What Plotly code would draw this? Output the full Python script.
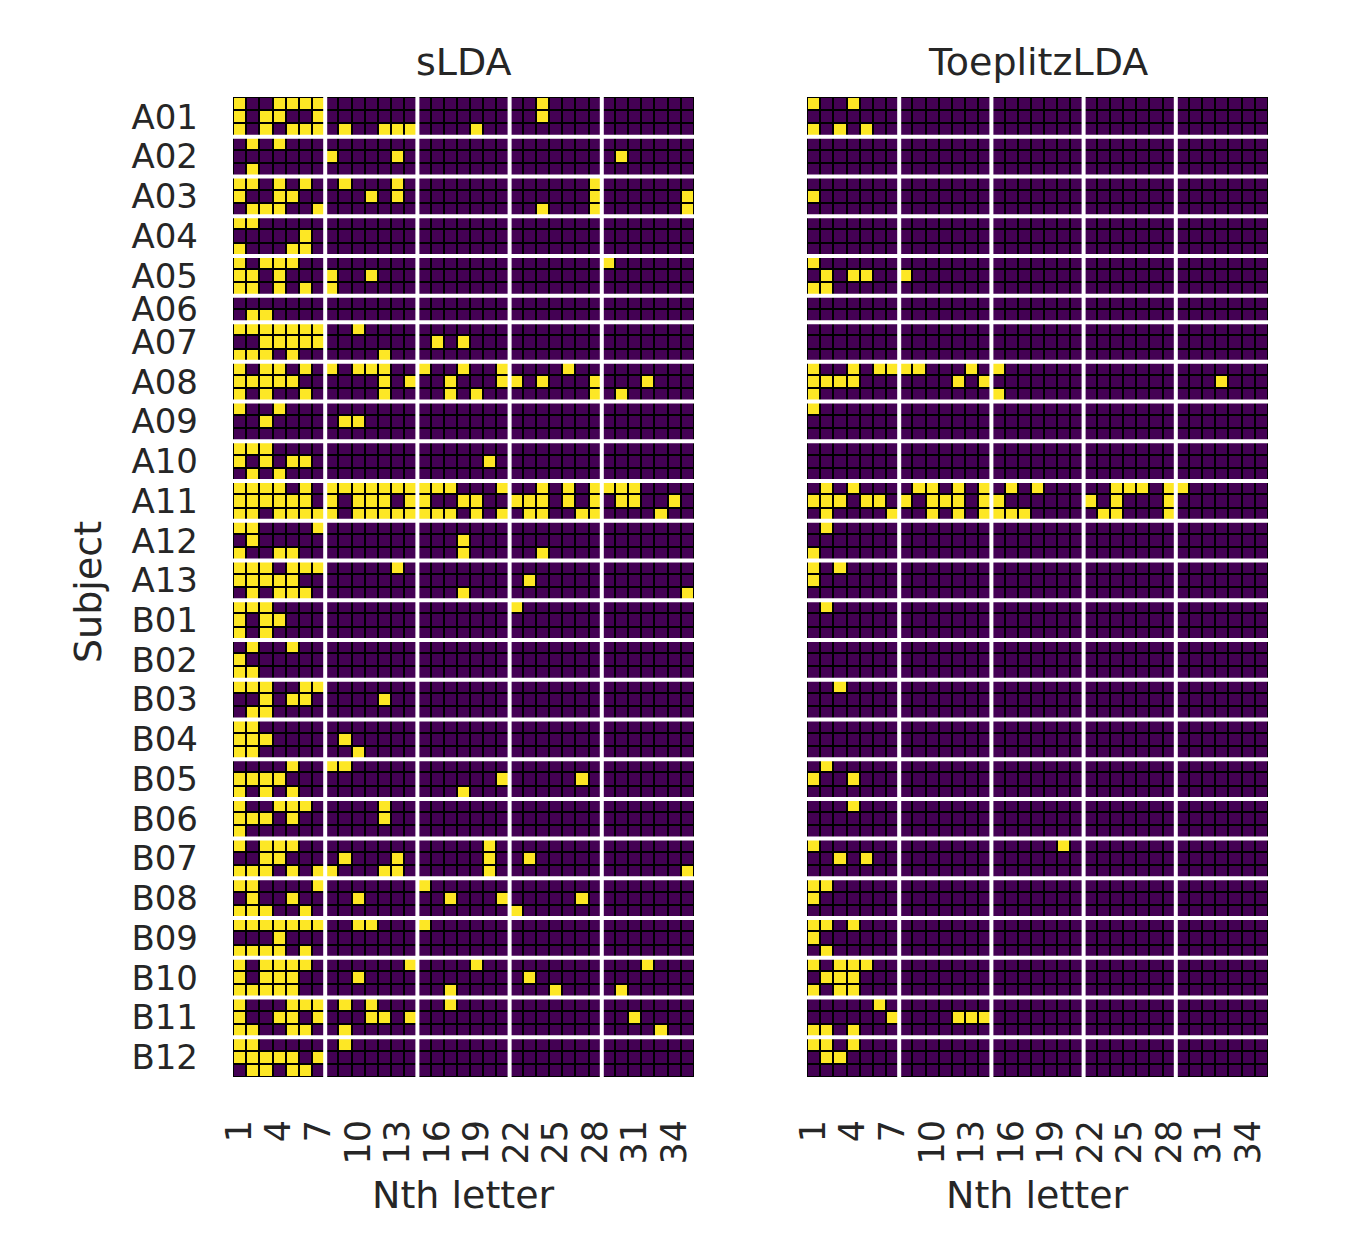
import plotly.graph_objects as go

# subjects and how many rows (runs) each one has
subjects = ["A01", "A02", "A03", "A04", "A05", "A06", "A07", "A08", "A09", "A10",
            "A11", "A12", "A13", "B01", "B02", "B03", "B04", "B05", "B06", "B07",
            "B08", "B09", "B10", "B11", "B12"]
rows_per_subject = [3, 3, 3, 3, 3, 2, 3, 3, 3, 3, 3, 3, 3,
                    3, 3, 3, 3, 3, 3, 3, 3, 3, 3, 3, 3]
n_letters = 35
letter_ticks = list(range(1, 36, 3))
block_edges = [7.5, 14.5, 21.5, 28.5]

# letters (1-based) that were wrong, one list per row
slda_wrong = {
    "A01": [[1, 4, 5, 6, 7, 24], [1, 3, 4, 7, 24], [1, 3, 5, 6, 7, 9, 12, 13, 14, 19]],
    "A02": [[2, 4], [8, 13, 30], [2]],
    "A03": [[1, 2, 4, 6, 9, 13, 28], [1, 4, 5, 11, 13, 28, 35], [2, 3, 4, 7, 24, 28, 35]],
    "A04": [[1, 2], [6], [1, 5, 6]],
    "A05": [[1, 3, 4, 5, 29], [1, 2, 4, 8, 11], [1, 2, 4, 6, 8]],
    "A06": [[], [2, 3]],
    "A07": [[1, 2, 3, 4, 5, 6, 7, 10], [3, 4, 5, 6, 7, 16, 18], [1, 2, 3, 5, 12]],
    "A08": [[1, 3, 4, 6, 8, 10, 11, 12, 15, 18, 21, 26],
            [1, 2, 3, 4, 5, 12, 14, 17, 21, 22, 24, 28, 32],
            [1, 3, 6, 12, 17, 19, 28, 30]],
    "A09": [[1, 4], [3, 9, 10], []],
    "A10": [[1, 2, 3], [1, 3, 5, 6, 20], [2, 4]],
    "A11": [[1, 2, 3, 4, 6, 8, 9, 10, 11, 12, 13, 14, 15, 16, 17, 21, 24, 26, 28, 29, 30, 31],
            [1, 2, 3, 4, 5, 6, 8, 10, 11, 12, 14, 15, 18, 19, 22, 23, 24, 26, 28, 30, 31, 34],
            [1, 2, 4, 5, 6, 7, 8, 10, 11, 12, 13, 14, 15, 16, 17, 19, 21, 23, 24, 27, 28, 33]],
    "A12": [[1, 2, 7], [2, 18], [1, 4, 5, 18, 24]],
    "A13": [[1, 2, 3, 5, 6, 7, 13], [1, 2, 3, 4, 5, 23], [2, 4, 5, 6, 18, 35]],
    "B01": [[1, 2, 3, 22], [1, 3, 4], [1, 3]],
    "B02": [[2, 5], [1], [1, 2]],
    "B03": [[1, 2, 3, 6, 7], [3, 5, 6, 12], [2, 3]],
    "B04": [[1, 2], [1, 2, 3, 9], [1, 2, 10]],
    "B05": [[5, 8, 9], [1, 2, 3, 4, 21, 27], [1, 3, 5, 18]],
    "B06": [[1, 4, 5, 6, 12], [1, 2, 3, 5, 12], [1]],
    "B07": [[1, 3, 4, 5, 20], [3, 4, 9, 13, 20, 23], [1, 2, 3, 5, 7, 8, 12, 13, 20, 35]],
    "B08": [[1, 2, 7, 15], [2, 5, 10, 17, 21, 27], [1, 2, 3, 6, 22]],
    "B09": [[1, 2, 3, 4, 5, 6, 7, 10, 11, 15], [4], [1, 2, 3, 4, 6]],
    "B10": [[1, 3, 4, 5, 6, 14, 19, 32], [1, 3, 4, 5, 10, 23], [1, 2, 3, 4, 5, 17, 25, 30]],
    "B11": [[1, 5, 6, 7, 9, 11, 17], [1, 4, 5, 7, 11, 12, 14, 31], [1, 2, 5, 6, 9, 33]],
    "B12": [[1, 2, 9], [1, 2, 3, 4, 5, 7], [2, 3, 5, 6]],
}

toeplitz_wrong = {
    "A01": [[1, 4], [], [1, 3, 5]],
    "A03": [[], [1], []],
    "A05": [[1], [2, 4, 5, 8], [1, 2]],
    "A08": [[1, 4, 6, 7, 8, 9, 13, 15], [1, 2, 3, 4, 12, 14, 32], [1, 15]],
    "A09": [[1], [], []],
    "A11": [[2, 4, 9, 10, 12, 14, 16, 18, 24, 25, 26, 28, 29],
            [1, 2, 3, 5, 6, 8, 10, 11, 12, 14, 15, 22, 24, 28],
            [2, 7, 10, 12, 14, 15, 16, 17, 23, 24, 28]],
    "A12": [[2], [], [1]],
    "A13": [[1, 3], [1], []],
    "B01": [[2], [], []],
    "B03": [[3], [], []],
    "B05": [[2], [1, 4], []],
    "B06": [[4], [], []],
    "B07": [[1, 20], [3, 5], []],
    "B08": [[1, 2], [1], []],
    "B09": [[1, 2, 4], [1], [2]],
    "B10": [[1, 3, 4, 5], [2, 3, 4], [1, 3, 4]],
    "B11": [[6], [7, 12, 13, 14], [1, 2, 4]],
    "B12": [[1, 2, 4], [2, 3], []],
}


def build_matrix(wrong):
    z = []
    for s, n in zip(subjects, rows_per_subject):
        rows = wrong.get(s, [])
        for r in range(n):
            line = [0] * n_letters
            if r < len(rows):
                for c in rows[r]:
                    line[c - 1] = 1
            z.append(line)
    return z


n_rows = sum(rows_per_subject)
row_idx = list(range(n_rows))
letters = list(range(1, n_letters + 1))

# tick at middle of each subject block, white line between blocks
tick_pos = []
bounds = []
start = 0
for n in rows_per_subject:
    tick_pos.append(start + (n - 1) / 2)
    start += n
    bounds.append(start - 0.5)
bounds = bounds[:-1]

viridis2 = [[0, "#440154"], [1, "#fde725"]]
txt = "#262626"
font = "DejaVu Sans"

fig = go.Figure()
fig.add_trace(go.Heatmap(z=build_matrix(slda_wrong), x=letters, y=row_idx,
                         colorscale=viridis2, zmin=0, zmax=1, showscale=False,
                         xgap=2, ygap=2, xaxis="x", yaxis="y"))
fig.add_trace(go.Heatmap(z=build_matrix(toeplitz_wrong), x=letters, y=row_idx,
                         colorscale=viridis2, zmin=0, zmax=1, showscale=False,
                         xgap=2, ygap=2, xaxis="x2", yaxis="y2"))

shapes = []
for xr, yr in [("x", "y"), ("x2", "y2")]:
    for b in bounds:
        shapes.append(dict(type="line", xref=xr, yref=yr, x0=0.5, x1=n_letters + 0.5,
                           y0=b, y1=b, line=dict(color="white", width=4)))
    for e in block_edges:
        shapes.append(dict(type="line", xref=xr, yref=yr, x0=e, x1=e,
                           y0=-0.5, y1=n_rows - 0.5, line=dict(color="white", width=4)))

xcommon = dict(range=[0.5, n_letters + 0.5], tickvals=letter_ticks, tickangle=-90,
               showgrid=False, zeroline=False, showline=False, ticks="",
               ticklabelstandoff=35, tickfont=dict(size=35, color=txt, family=font))
ycommon = dict(range=[n_rows - 0.5, -0.5], showgrid=False, zeroline=False,
               showline=False, ticks="")

d1 = 461 / 1035
fig.update_layout(
    width=1342, height=1252,
    margin=dict(l=225, r=82, t=89, b=183),
    paper_bgcolor="white", plot_bgcolor="black",
    font=dict(family=font, color=txt),
    xaxis=dict(domain=[0, d1], anchor="y", **xcommon),
    xaxis2=dict(domain=[1 - d1, 1], anchor="y2", **xcommon),
    yaxis=dict(anchor="x", tickvals=tick_pos, ticktext=subjects,
               ticklabelstandoff=34, tickfont=dict(size=34, color=txt, family=font),
               **ycommon),
    yaxis2=dict(anchor="x2", showticklabels=False, **ycommon),
    shapes=shapes,
    annotations=[
        dict(text="sLDA", xref="paper", yref="paper", x=d1 / 2, y=1.036,
             xanchor="center", yanchor="middle", showarrow=False, font=dict(size=38)),
        dict(text="ToeplitzLDA", xref="paper", yref="paper", x=1 - d1 / 2, y=1.036,
             xanchor="center", yanchor="middle", showarrow=False, font=dict(size=38)),
        dict(text="Nth letter", xref="paper", yref="paper", x=d1 / 2, y=-0.12,
             xanchor="center", yanchor="middle", showarrow=False, font=dict(size=38)),
        dict(text="Nth letter", xref="paper", yref="paper", x=1 - d1 / 2, y=-0.12,
             xanchor="center", yanchor="middle", showarrow=False, font=dict(size=38)),
        dict(text="Subject", xref="paper", yref="paper", x=-0.14, y=0.495,
             xanchor="center", yanchor="middle", textangle=-90, showarrow=False,
             font=dict(size=38)),
    ],
)

fig.write_html("out.html")
